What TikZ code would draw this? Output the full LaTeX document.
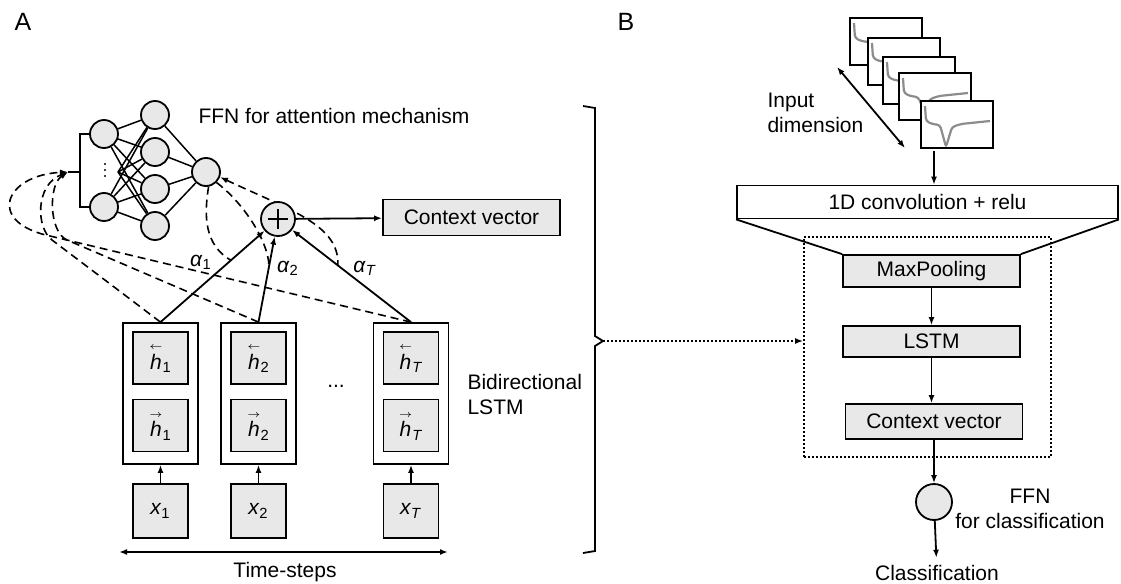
\documentclass[tikz,border=0pt]{standalone}
\usepackage{amsmath}
\usepackage{fontspec}
\setmainfont{Liberation Sans}
\usetikzlibrary{arrows.meta,positioning,fit,backgrounds,calc}
\definecolor{cFill}{HTML}{E8E8E8}
\definecolor{cSig}{HTML}{8C8C8C}
\newcommand{\hback}[1]{$\overset{\scriptscriptstyle\leftarrow}{\textit{h}}$\textsubscript{#1}}
\newcommand{\hfwd}[1]{$\overset{\scriptscriptstyle\rightarrow}{\textit{h}}$\textsubscript{#1}}

\begin{document}
\begin{tikzpicture}[x=0.5pt,y=-0.5pt,font=\fontsize{10.5}{12.8}\selectfont,line width=0.9pt,
  >={Latex[length=4pt,width=3pt]},
  neuron/.style={circle,draw,fill=cFill,minimum size=14pt,inner sep=0pt},
  hcell/.style={draw,fill=cFill,minimum width=27.5pt,minimum height=26pt,inner sep=0pt},
  colbox/.style={draw,fill=white,minimum width=37.5pt,minimum height=70.5pt,inner sep=0pt},
  layer/.style={draw,fill=cFill,minimum width=88.5pt,minimum height=16pt,inner sep=0pt},
  attn/.style={dash pattern=on 4pt off 2.5pt,line width=0.8pt},
  dotline/.style={dash pattern=on 0.9pt off 1.1pt,line width=0.9pt}]
  \useasboundingbox (0,0) rectangle (1121,584);
  \node (labA) at (23,22) {\fontsize{12.5}{14}\selectfont A};
  \node (labB) at (626,22) {\fontsize{12.5}{14}\selectfont B};
  % panel A: attention network
  \node[neuron] (in1) at (104,134) {};
  \node[neuron] (in2) at (104,207) {};
  \foreach \y in {164,170,176}{\fill (105,\y) circle (0.6pt);}
  \coordinate (inmid) at (118,172);
  \foreach \j/\y in {1/115,2/152,3/189,4/226}{\node[neuron] (hd\j) at (155,\y) {};}
  \node[neuron] (out) at (206,172) {};
  \foreach \i in {in1,in2,inmid}{\foreach \j in {1,...,4}{\draw[line width=0.75pt] (\i) -- (hd\j);}}
  \foreach \j in {1,...,4}{\draw[line width=0.75pt] (hd\j) -- (out);}
  \coordinate (brkm) at (80,172);
  \coordinate (brk) at (68,172);
  \draw (in1.west) -- (in1.west -| brkm) -- (in2.west -| brkm) -- (in2.west);
  \draw (brkm) -- (brk);
  \node[anchor=west] (ffnA) at (191,116) {FFN for attention mechanism};
  \node[circle,draw,fill=cFill,minimum size=17pt,inner sep=0pt] (plus) at (278,219) {};
  \draw ([xshift=-5pt]plus.center) -- ([xshift=5pt]plus.center);
  \draw ([yshift=-5pt]plus.center) -- ([yshift=5pt]plus.center);
  \node[layer,minimum height=18pt] (ctxA) at (471.5,217.5) {Context vector};
  \draw[->] (plus) -- (ctxA);
  % panel A: bidirectional LSTM
  \foreach \c/\cx/\s in {1/160.5/1,2/258.5/2,T/411/\textit{T}}{
    \node[colbox] (c\c) at (\cx,393.5) {};
    \node[hcell] (hb\c) at (\cx,358) {\hback{\s}};
    \node[hcell] (hf\c) at (\cx,425.5) {\hfwd{\s}};
    \node[hcell,minimum height=27pt] (x\c) at (\cx,511) {\textit{x}\textsubscript{\s}};
    \draw[->] (x\c) -- (c\c);
    \draw[->] (c\c.north) -- (plus);}
  \node (coldots) at (336,386) {...};
  \node[anchor=west,align=left] (bilstm) at (460,394.5) {Bidirectional\\LSTM};
  \coordinate (ts1) at (119,552);
  \coordinate (ts2) at (448,552);
  \draw[<->] (ts1) -- (ts2);
  \node (tslab) at (285,572) {Time-steps};
  % attention weights
  \coordinate (a1) at ($(c1.north)!0.6!(plus)$);
  \coordinate (a2) at ($(c2.north)!0.54!(plus)$);
  \coordinate (aT) at ($(cT.north)!0.55!(plus)$);
  \draw[attn] (out.-80) .. controls (204,215) and (204,245) .. (a1);
  \draw[attn] (out.-45) .. controls (240,200) and (268,238) .. (a2);
  \begin{scope}[on background layer]
    \draw[attn,<-] (out.-20) .. controls (290,210) and (340,225) .. (aT);
  \end{scope}
  \node (al1) at (201,262) {\textit{α}\textsubscript{1}};
  \node (al2) at (288,268) {\textit{α}\textsubscript{2}};
  \node (alT) at (365,268) {\textit{α}\textsubscript{\textit{T}}};
  \draw[attn,->] (c1.north) -- (52,240) .. controls (36,228) and (35,185) .. (brk);
  \draw[attn,->] (c2.north) -- (67,240) .. controls (49,232) and (48,185) .. (brk);
  \draw[attn,->] (cT.north) -- (50,236) .. controls (-15,222) and (5,175) .. (brk);
  % bracket to panel B
  \coordinate (brtip) at (603,341);
  \draw (583,106) -- (595,108) -- (595,336) -- (brtip) -- (595,346) -- (595,551) -- (583,553);
  % panel B
  \foreach \fx/\fy/\d in {850/18/6,868/38/6,883/57/6,899/73/13,921/101/22}{
    \draw[fill=white,line width=0.6pt] (\fx,\fy) rectangle ++(72,47);
    \draw[cSig,line width=1.1pt,rounded corners=1.5pt] (\fx+4,\fy+5) -- (\fx+5,\fy+20) -- (\fx+11,\fy+23)
      -- (\fx+19,\fy+24) -- (\fx+25,\fy+24+\d) -- (\fx+31,\fy+26) -- (\fx+40,\fy+23) -- (\fx+69,\fy+20);}
  \coordinate (dimA) at (837,67);
  \coordinate (dimB) at (905,148);
  \draw[<->] (dimA) -- (dimB);
  \node[anchor=west,align=left] (dimlab) at (760,113) {Input\\dimension};
  \coordinate (fr5) at (934,151);
  \node[draw,minimum width=190.5pt,minimum height=16.5pt,inner sep=0pt] (conv) at (927.5,202) {1D convolution + relu};
  \draw[->] (fr5) -- (fr5 |- conv.north);
  \node[draw,dotline,minimum width=123.5pt,minimum height=110pt] (dbox) at (927.5,347) {};
  \node[layer] (maxp) at (931.5,271) {MaxPooling};
  \node[layer,minimum height=15.5pt] (lstm) at (931.5,341.5) {LSTM};
  \node[layer,minimum height=17.5pt] (ctxB) at (934,421.5) {Context vector};
  \draw (conv.south west) -- (maxp.north west);
  \draw (conv.south east) -- (maxp.north east);
  \draw[->] (maxp) -- (lstm);
  \draw[->] (lstm) -- (lstm |- ctxB.north);
  \node[circle,draw,fill=cFill,minimum size=18pt,inner sep=0pt] (cls) at (934,502) {};
  \draw[->] (ctxB) -- (cls);
  \node (clslab) at (937,573) {Classification};
  \draw[->] (cls) -- (clslab);
  \node[align=center] (ffnB) at (1030,509) {FFN\\for classification};
  \draw[dotline,->] (brtip) -- (brtip -| dbox.west);
\end{tikzpicture}
\end{document}
